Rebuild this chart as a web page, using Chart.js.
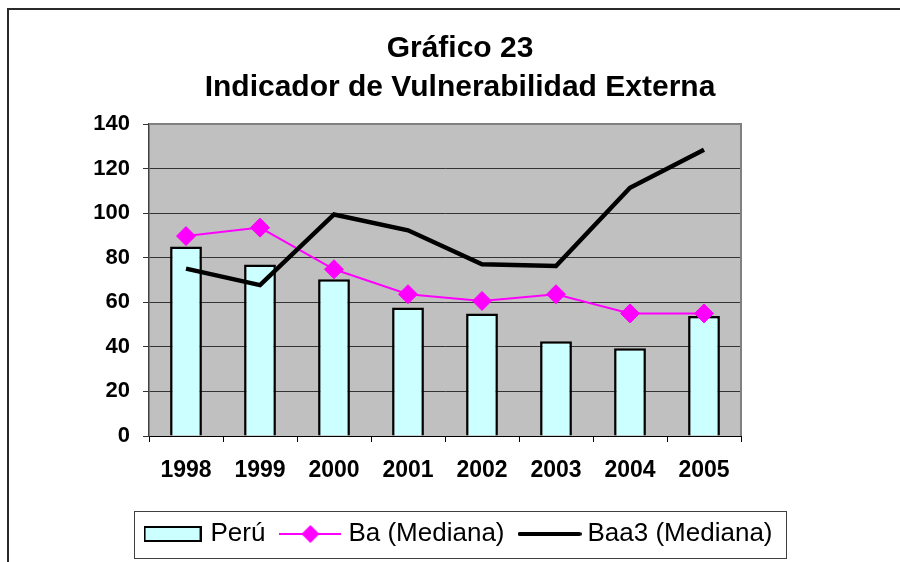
<!DOCTYPE html>
<html>
<head>
<meta charset="utf-8">
<script src="https://cdn.jsdelivr.net/npm/chart.js@4.4.1/dist/chart.umd.min.js"></script>
<style>
  html, body { margin: 0; padding: 0; background: #ffffff; }
  #wrap { width: 900px; height: 562px; position: relative; }
</style>
</head>
<body>
<div id="wrap"><canvas id="c" width="900" height="562"></canvas></div>
<script>
const titleLines = ['Gráfico 23', 'Indicador de Vulnerabilidad Externa'];
const years = ['1998', '1999', '2000', '2001', '2002', '2003', '2004', '2005'];
const peru = [85, 77, 70.3, 57.7, 55, 42.5, 39.4, 53.9];
const baMediana = [89.7, 93.5, 74.8, 63.6, 60.6, 63.6, 55, 55];
const baa3Mediana = [75.1, 67.7, 99.4, 92.3, 77.1, 76.3, 111.4, 128.5];
const seriesNames = ['Perú', 'Ba (Mediana)', 'Baa3 (Mediana)'];
const yTicks = { min: 0, max: 140, step: 20 };

const FONT = "'Liberation Sans', Arial, Helvetica, sans-serif";
const CYAN = '#CCFFFF';
const MAGENTA = '#FF00FF';

// legend icons
function makeIcon(w, h, draw) {
  const c = document.createElement('canvas');
  c.width = w; c.height = h;
  draw(c.getContext('2d'), w, h);
  return c;
}
const iconBar = makeIcon(58, 16, (g, w, h) => {
  g.fillStyle = CYAN; g.fillRect(1, 1, w - 2, h - 2);
  g.strokeStyle = '#000'; g.lineWidth = 2; g.strokeRect(1, 1, w - 2, h - 2);
});
const iconBa = makeIcon(62, 20, (g, w, h) => {
  g.strokeStyle = MAGENTA; g.lineWidth = 2;
  g.beginPath(); g.moveTo(0, h / 2); g.lineTo(w, h / 2); g.stroke();
  g.fillStyle = MAGENTA;
  g.beginPath(); g.moveTo(w / 2, 1); g.lineTo(w / 2 + 9, h / 2); g.lineTo(w / 2, h - 1); g.lineTo(w / 2 - 9, h / 2); g.closePath(); g.fill();
});
const iconBaa3 = makeIcon(64, 8, (g, w, h) => {
  g.strokeStyle = '#000'; g.lineWidth = 4; g.lineCap = 'round';
  g.beginPath(); g.moveTo(2, h / 2); g.lineTo(w - 2, h / 2); g.stroke();
});
const icons = [iconBar, iconBa, iconBaa3];

const decor = {
  id: 'decor',
  beforeDraw(chart) {
    const { ctx, chartArea: a } = chart;
    ctx.save();
    ctx.fillStyle = '#ffffff';
    ctx.fillRect(0, 0, chart.width, chart.height);
    ctx.fillStyle = '#C0C0C0';
    ctx.fillRect(a.left, a.top, a.right - a.left, a.bottom - a.top);
    // outer frame (top and left)
    ctx.strokeStyle = '#2a2a2a';
    ctx.lineWidth = 2;
    ctx.beginPath();
    ctx.moveTo(8, chart.height);
    ctx.lineTo(8, 9);
    ctx.lineTo(chart.width, 9);
    ctx.stroke();
    ctx.restore();
  },
  beforeDatasetsDraw(chart) {
    const { ctx, chartArea: a } = chart;
    ctx.save();
    ctx.strokeStyle = '#808080';
    ctx.lineWidth = 2;
    ctx.beginPath();
    ctx.moveTo(a.left, a.top);
    ctx.lineTo(a.right, a.top);
    ctx.lineTo(a.right, a.bottom);
    ctx.stroke();
    ctx.restore();
  },
  afterDraw(chart) {
    const lg = chart.legend;
    if (!lg || !lg.legendHitBoxes || !lg.legendHitBoxes.length) return;
    const hb = lg.legendHitBoxes;
    const first = hb[0], last = hb[hb.length - 1];
    const bw = lg.options.labels.pointStyleWidth;
    const left = first.left + bw / 2 - icons[0].width / 2 - 10;
    const right = last.left + last.width + 13;
    const cy = first.top + first.height / 2;
    const ctx = chart.ctx;
    ctx.save();
    ctx.strokeStyle = '#404040';
    ctx.lineWidth = 1;
    ctx.strokeRect(Math.round(left) + 0.5, Math.round(cy - 23) + 0.5, Math.round(right - left), 47);
    ctx.restore();
  }
};

new Chart(document.getElementById('c'), {
  data: {
    labels: years,
    datasets: [
      {
        type: 'bar', label: seriesNames[0], data: peru, order: 3,
        backgroundColor: CYAN, borderColor: '#000', borderWidth: 2.5,
        categoryPercentage: 1, barPercentage: 0.43, yAxisID: 'y'
      },
      {
        type: 'line', label: seriesNames[1], data: baMediana, order: 2,
        borderColor: MAGENTA, backgroundColor: MAGENTA, borderWidth: 2,
        pointStyle: 'rectRot', pointRadius: 9.5, pointBorderWidth: 1,
        pointBackgroundColor: MAGENTA, pointBorderColor: MAGENTA,
        tension: 0, yAxisID: 'y'
      },
      {
        type: 'line', label: seriesNames[2], data: baa3Mediana, order: 1,
        borderColor: '#000', backgroundColor: '#000', borderWidth: 4.5,
        pointRadius: 0, borderJoinStyle: 'miter', tension: 0, yAxisID: 'y'
      }
    ]
  },
  options: {
    responsive: false,
    animation: false,
    devicePixelRatio: 1,
    layout: { padding: { top: 10, left: 20, right: 0, bottom: 5 } },
    plugins: {
      tooltip: { enabled: false },
      title: {
        display: true,
        text: titleLines,
        color: '#000',
        font: { family: FONT, size: 30, weight: 'bold', lineHeight: 1.3 },
        padding: { top: 19.5, bottom: 16.5 }
      },
      legend: {
        display: true,
        position: 'bottom',
        labels: {
          usePointStyle: true,
          pointStyleWidth: 50,
          padding: 20,
          color: '#000',
          font: { family: FONT, size: 26 },
          generateLabels() {
            return seriesNames.map((n, i) => ({
              text: n, pointStyle: icons[i], fillStyle: '#000', strokeStyle: '#000',
              lineWidth: 0, hidden: false, datasetIndex: i, fontColor: '#000'
            }));
          }
        }
      }
    },
    scales: {
      x: {
        type: 'category',
        offset: true,
        grid: { display: true, drawOnChartArea: false, drawTicks: true, tickLength: 6, offset: true, color: '#000', lineWidth: 1 },
        border: { display: true, color: '#000', width: 1 },
        ticks: { color: '#000', padding: 15, font: { family: FONT, size: 23, weight: 'bold' }, maxRotation: 0 },
        afterFit(s) { s.height = 65; }
      },
      y: {
        type: 'linear', position: 'left',
        min: yTicks.min, max: yTicks.max,
        ticks: { stepSize: yTicks.step, color: '#000', padding: 13, font: { family: FONT, size: 22, weight: 'bold' } },
        grid: { color: '#333', lineWidth: 1, tickLength: 6, drawTicks: true },
        border: { display: true, color: '#404040', width: 1.5 },
        afterFit(s) { s.width = 129; }
      },
      yR: {
        type: 'linear', position: 'right', display: true,
        min: yTicks.min, max: yTicks.max,
        grid: { display: false, drawTicks: false },
        border: { display: false },
        ticks: { display: false },
        afterFit(s) { s.width = 159; }
      }
    }
  },
  plugins: [decor]
});
</script>
</body>
</html>
